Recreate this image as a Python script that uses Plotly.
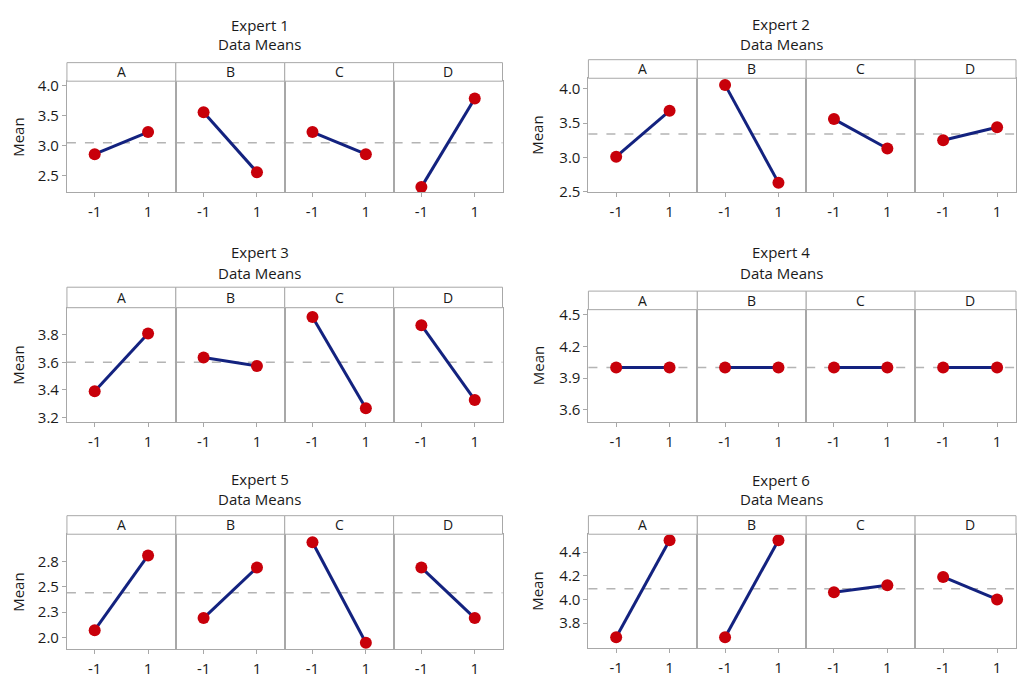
import plotly.graph_objects as go

W, H = 1017, 678

experts = ["Expert 1", "Expert 2", "Expert 3", "Expert 4", "Expert 5", "Expert 6"]
factors = ["A", "B", "C", "D"]
levels = [-1, 1]
level_labels = ["-1", "1"]

# means at level -1 and level 1 for factors A, B, C, D
e1_vals = [[2.86, 3.23], [3.56, 2.56], [3.23, 2.86], [2.31, 3.79]]
e2_vals = [[3.01, 3.68], [4.06, 2.63], [3.56, 3.13], [3.25, 3.44]]
e3_vals = [[3.39, 3.81], [3.635, 3.574], [3.93, 3.266], [3.87, 3.327]]
e4_vals = [[4.0, 4.0], [4.0, 4.0], [4.0, 4.0], [4.0, 4.0]]
e5_vals = [[2.07, 2.81], [2.19, 2.69], [2.94, 1.946], [2.69, 2.19]]
e6_vals = [[3.68, 4.5], [3.68, 4.5], [4.06, 4.12], [4.19, 4.0]]
all_vals = [e1_vals, e2_vals, e3_vals, e4_vals, e5_vals, e6_vals]

grand_means = [3.05, 3.34, 3.60, 4.0, 2.44, 4.09]

y_tickvals = [
    [2.5, 3.0, 3.5, 4.0],
    [2.5, 3.0, 3.5, 4.0],
    [3.2, 3.4, 3.6, 3.8],
    [3.6, 3.9, 4.2, 4.5],
    [2.0, 2.25, 2.5, 2.75],
    [3.8, 4.0, 4.2, 4.4],
]
y_ticktext = [
    ["2.5", "3.0", "3.5", "4.0"],
    ["2.5", "3.0", "3.5", "4.0"],
    ["3.2", "3.4", "3.6", "3.8"],
    ["3.6", "3.9", "4.2", "4.5"],
    ["2.0", "2.3", "2.5", "2.8"],
    ["3.8", "4.0", "4.2", "4.4"],
]
y_ranges = [
    [2.22, 4.08],
    [2.486, 4.157],
    [3.167, 3.997],
    [3.485, 4.549],
    [1.88, 3.02],
    [3.586, 4.55],
]

# layout geometry in pixels (positions only)
col_left = [67, 589]
panel_w = 109
title_y = [(19, 39), (18, 39), (252, 273), (252, 273), (484, 505), (485, 505)]
title_x = [260, 782]
strip_top = [58, 55, 288, 292, 522, 522]
strip_bot = [77, 74, 309, 311, 541, 541]
plot_bot = [191, 191, 426, 426, 659, 658]
mean_label_x = [18, 538]

LINE = "#13227f"
MARK = "#c8000a"
BORDER = "#a8a8a8"
TXT = "#1a1a1a"
FONT = "Open Sans"

fig = go.Figure()
layout = dict(
    width=W, height=H, margin=dict(l=0, r=0, t=0, b=0),
    paper_bgcolor="white", plot_bgcolor="white", showlegend=False,
    font=dict(family=FONT, color=TXT, size=14),
)
shapes = []
annotations = []

for e in range(6):
    col = e % 2
    for f in range(4):
        k = e * 4 + f + 1
        x0 = col_left[col] + f * panel_w
        x1 = x0 + panel_w
        xr0, xr1 = -2.04, 2.04
        if x1 > W:
            xr1 = xr0 + (W - x0) / 27.0
            x1 = W
        suffix = "" if k == 1 else str(k)
        xa = dict(
            domain=[x0 / W, x1 / W], range=[xr0, xr1],
            tickmode="array", tickvals=levels, ticktext=level_labels,
            ticks="outside", ticklen=4, tickcolor=BORDER,
            ticklabelstandoff=2,
            showline=True, linecolor=BORDER, linewidth=1, mirror=True,
            showgrid=False, zeroline=False, anchor="y" + suffix,
            tickfont=dict(size=15, color=TXT, family=FONT),
            fixedrange=True,
        )
        ya = dict(
            domain=[1 - plot_bot[e] / H, 1 - strip_bot[e] / H],
            range=y_ranges[e], tickmode="array",
            tickvals=y_tickvals[e], ticktext=y_ticktext[e],
            showline=True, linecolor=BORDER, linewidth=1, mirror=True,
            showgrid=False, zeroline=False, anchor="x" + suffix,
            tickfont=dict(size=15, color=TXT, family=FONT),
            fixedrange=True,
        )
        if f == 0:
            ya.update(ticks="outside", ticklen=4, tickcolor=BORDER, showticklabels=True)
        else:
            ya.update(ticks="", showticklabels=False)
        layout["xaxis" + suffix] = xa
        layout["yaxis" + suffix] = ya

        # mean reference line
        shapes.append(dict(
            type="line", xref="x" + suffix + " domain", yref="y" + suffix,
            x0=0, x1=1, y0=grand_means[e], y1=grand_means[e],
            line=dict(color="#b4b4b4", width=1.5, dash="dash"), layer="below",
        ))
        # strip
        shapes.append(dict(
            type="rect", xref="paper", yref="paper",
            x0=x0 / W, x1=min(x1, W) / W,
            y0=1 - strip_bot[e] / H, y1=1 - strip_top[e] / H,
            line=dict(color=BORDER, width=1), fillcolor="white",
        ))
        annotations.append(dict(
            text=factors[f], xref="paper", yref="paper",
            x=(col_left[col] + f * panel_w + panel_w / 2) / W,
            y=1 - (strip_top[e] + strip_bot[e]) / 2 / H,
            showarrow=False, xanchor="center", yanchor="middle",
            font=dict(size=14, color=TXT, family=FONT),
        ))

        fig.add_trace(go.Scatter(
            x=levels, y=all_vals[e][f], mode="lines+markers",
            line=dict(color=LINE, width=3),
            marker=dict(color=MARK, size=12),
            xaxis="x" + suffix, yaxis="y" + suffix,
            hoverinfo="x+y",
        ))

    # titles
    annotations.append(dict(
        text=experts[e], xref="paper", yref="paper",
        x=title_x[col] / W, y=1 - title_y[e][0] / H,
        showarrow=False, xanchor="center", yanchor="middle",
        font=dict(size=15, color=TXT, family=FONT),
    ))
    annotations.append(dict(
        text="Data Means", xref="paper", yref="paper",
        x=title_x[col] / W, y=1 - title_y[e][1] / H,
        showarrow=False, xanchor="center", yanchor="middle",
        font=dict(size=15, color=TXT, family=FONT),
    ))
    annotations.append(dict(
        text="Mean", xref="paper", yref="paper",
        x=mean_label_x[col] / W, y=1 - (strip_bot[e] + plot_bot[e]) / 2 / H,
        showarrow=False, xanchor="center", yanchor="middle", textangle=-90,
        font=dict(size=15, color=TXT, family=FONT),
    ))

layout["shapes"] = shapes
layout["annotations"] = annotations
fig.update_layout(**layout)
fig.write_html(
    "out.html",
    config={"displayModeBar": False},
    post_script=(
        "document.documentElement.style.margin='0';"
        "document.documentElement.style.overflow='hidden';"
        "document.body.style.margin='0';document.body.style.padding='0';"
        "document.body.style.overflow='hidden';"
        "var gd=document.getElementById('{plot_id}');"
        "gd.style.position='fixed';gd.style.left='0px';gd.style.top='0px';"
    ),
)
